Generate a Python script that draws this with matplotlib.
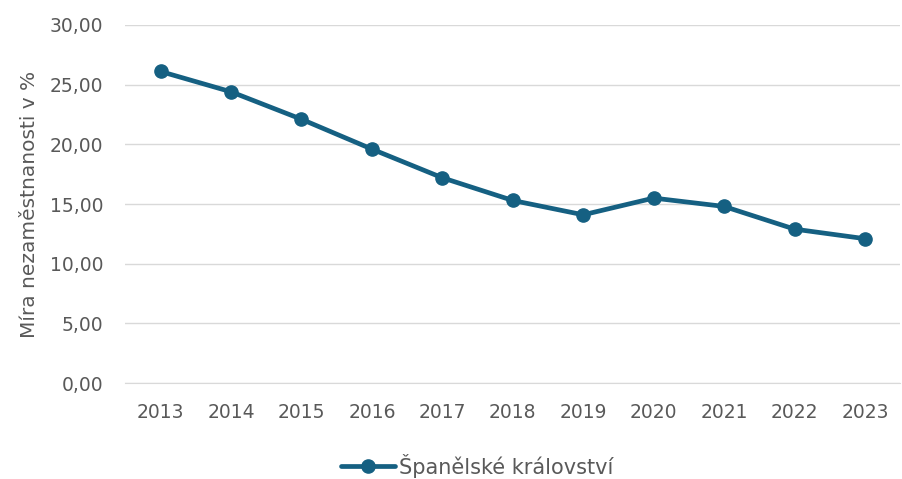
import matplotlib
matplotlib.use('Agg')
import matplotlib.pyplot as plt
from matplotlib.ticker import FuncFormatter

# Míra nezaměstnanosti - Španělsko
roky = ['2013', '2014', '2015', '2016', '2017', '2018', '2019', '2020', '2021', '2022', '2023']
mira = [26.1, 24.4, 22.1, 19.6, 17.2, 15.3, 14.1, 15.5, 14.8, 12.9, 12.1]

barva = '#156082'
seda = '#595959'

fig = plt.figure(figsize=(9.02, 4.79), dpi=100)
ax = fig.add_axes([0.139, 0.2, 0.859, 0.748])

x = list(range(len(roky)))
ax.plot(x, mira, color=barva, lw=3.4, marker='o', ms=9.5, label='Španělské království',
        solid_capstyle='round', zorder=3)

ax.set_xlim(-0.5, len(roky) - 0.5)
ax.set_ylim(0, 30)
ax.set_yticks([0, 5, 10, 15, 20, 25, 30])
ax.yaxis.set_major_formatter(FuncFormatter(lambda v, p: f'{v:.2f}'.replace('.', ',')))
ax.set_xticks(x)
ax.set_xticklabels(roky)

ax.grid(axis='y', color='#d9d9d9', lw=1)
ax.set_axisbelow(True)
for s in ['top', 'right', 'left']:
    ax.spines[s].set_visible(False)
ax.spines['bottom'].set_color('#d9d9d9')
ax.tick_params(axis='both', length=0, labelsize=13.5, colors=seda)
ax.tick_params(axis='x', pad=14)
ax.tick_params(axis='y', pad=16)

ax.set_ylabel('Míra nezaměstnanosti v %', fontsize=14.5, color=seda, labelpad=8)

fig.legend(loc='center', bbox_to_anchor=(0.529, 0.028), frameon=False,
           fontsize=15, labelcolor=seda, handlelength=2.6, handletextpad=0.15)

fig.savefig('out.png', dpi=100)
